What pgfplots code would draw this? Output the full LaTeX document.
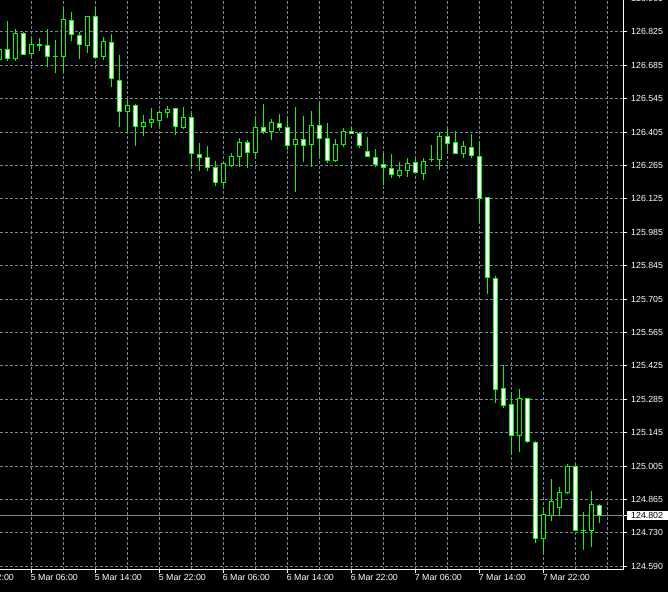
\documentclass[border=0pt]{standalone}
\usepackage{pgfplots}
\pgfplotsset{compat=1.18}
\usepackage{pgfplotstable}
\usepackage{fontspec}
\setmainfont{Liberation Sans}
\definecolor{gridc}{HTML}{778899}
\definecolor{mtgreen}{HTML}{00FF00}

% columns: i (hour index, 0 = 5 Mar 06:00), open, high, low, close
\pgfplotstableread{
i o h l c
-3 126.752 126.871 126.705 126.713
-1 126.819 126.826 126.728 126.731
2 126.769 126.837 126.680 126.723
5 126.872 126.907 126.788 126.815
6 126.811 126.826 126.713 126.773
8 126.890 126.930 126.713 126.719
10 126.782 126.816 126.596 126.631
11 126.623 126.728 126.429 126.493
13 126.518 126.522 126.349 126.430
18 126.506 126.506 126.395 126.430
20 126.468 126.485 126.261 126.317
21 126.313 126.359 126.245 126.301
22 126.301 126.348 126.242 126.259
23 126.259 126.284 126.179 126.196
27 126.363 126.373 126.257 126.320
29 126.426 126.524 126.398 126.408
31 126.443 126.482 126.412 126.424
32 126.426 126.468 126.331 126.349
34 126.373 126.473 126.282 126.349
36 126.434 126.529 126.307 126.378
37 126.380 126.445 126.278 126.289
40 126.409 126.426 126.398 126.399
41 126.402 126.408 126.341 126.349
42 126.326 126.387 126.303 126.303
43 126.301 126.335 126.261 126.270
44 126.270 126.317 126.185 126.257
45 126.255 126.314 126.213 126.228
48 126.280 126.299 126.234 126.236
52 126.389 126.418 126.328 126.359
53 126.363 126.411 126.313 126.317
55 126.342 126.398 126.296 126.309
56 126.306 126.369 126.031 126.128
57 126.133 126.133 125.730 125.799
58 125.795 125.804 125.274 125.330
59 125.335 125.431 125.253 125.263
60 125.265 125.320 125.056 125.136
62 125.293 125.293 125.107 125.111
63 125.109 125.115 124.686 124.707
68 125.008 125.013 124.738 124.739
71 124.845 124.849 124.772 124.803
}\bear

\pgfplotstableread{
i o h l c
-4 126.710 126.758 126.703 126.752
-2 126.713 126.837 126.705 126.819
0 126.734 126.801 126.721 126.773
1 126.769 126.801 126.746 126.773
3 126.723 126.791 126.654 126.723
4 126.723 126.921 126.659 126.878
7 126.769 126.890 126.738 126.890
9 126.723 126.802 126.709 126.786
12 126.493 126.543 126.408 126.518
14 126.430 126.476 126.391 126.447
15 126.447 126.508 126.422 126.460
16 126.455 126.498 126.433 126.489
17 126.489 126.515 126.466 126.501
19 126.426 126.510 126.418 126.468
24 126.195 126.281 126.178 126.273
25 126.268 126.320 126.261 126.306
26 126.306 126.380 126.261 126.363
28 126.320 126.470 126.296 126.426
30 126.408 126.461 126.373 126.447
33 126.353 126.512 126.157 126.373
35 126.353 126.494 126.261 126.434
38 126.289 126.377 126.282 126.355
39 126.353 126.424 126.342 126.409
46 126.224 126.281 126.215 126.246
47 126.245 126.299 126.220 126.276
49 126.234 126.296 126.206 126.284
50 126.291 126.353 126.282 126.291
51 126.291 126.405 126.248 126.389
54 126.316 126.370 126.296 126.347
61 125.136 125.332 125.069 125.293
64 124.707 124.837 124.651 124.808
65 124.802 124.955 124.780 124.862
66 124.837 124.923 124.802 124.900
67 124.897 125.017 124.892 125.008
69 124.739 124.816 124.658 124.739
70 124.739 124.904 124.672 124.849
}\bull

\begin{document}
\begin{tikzpicture}
\useasboundingbox (0,0) rectangle (668pt,592pt);
\clip (0,0) rectangle (668pt,592pt);
\fill[black] (0,0) rectangle (668pt,592pt);
\begin{axis}[
  at={(-40pt,22.5pt)}, anchor=south west,
  scale only axis, width=663.5pt, height=574.5pt,
  xmin=-8.9375, xmax=74.0,
  ymin=124.57662, ymax=126.97938,
  axis x line*=bottom, axis y line*=right,
  axis line style={white, line width=1pt, -},
  tick style={white, line width=1pt},
  tick align=outside,
  major tick length=3pt, minor tick length=0pt,
  xtick={-8,0,...,64},
  xticklabels={4 Mar 22:00,5 Mar 06:00,5 Mar 14:00,5 Mar 22:00,6 Mar 06:00,6 Mar 14:00,6 Mar 22:00,7 Mar 06:00,7 Mar 14:00,7 Mar 22:00},
  minor xtick={-4,4,12,20,28,36,44,52,60,68,72},
  ytick={124.5900,124.7297,124.8694,125.0091,125.1488,125.2885,125.4282,125.5679,125.7076,125.8474,125.9871,126.1268,126.2665,126.4062,126.5459,126.6856,126.8253,126.9650},
  yticklabels={124.590,124.730,124.865,125.005,125.145,125.285,125.425,125.565,125.705,125.845,125.985,126.125,126.265,126.405,126.545,126.685,126.825,126.965},
  extra y ticks={124.802},
  extra y tick labels={124.802},
  extra y tick style={major grid style={solid, gridc, line width=1pt}, yticklabel style={fill=white, text=black}},
  xmajorgrids, xminorgrids, ymajorgrids,
  major grid style={gridc, dash pattern=on 3pt off 2pt, line width=1pt},
  minor grid style={gridc, dash pattern=on 3pt off 2pt, line width=1pt},
  xticklabel style={text=white, font=\fontsize{8.8}{10}\selectfont, anchor=north west, inner sep=0pt, xshift=-0.8pt, yshift=-2pt},
  yticklabel style={text=white, font=\fontsize{8.8}{10}\selectfont, anchor=west, inner xsep=4.5pt, inner ysep=1.7pt},
]
% wicks
\addplot[draw=mtgreen, line width=1pt, line cap=butt, -, mark=none,
  quiver={u=0, v=\thisrow{h}-\thisrow{l}}]
  table[x=i, y=l] {\bear};
\addplot[draw=mtgreen, line width=1pt, line cap=butt, -, mark=none,
  quiver={u=0, v=\thisrow{h}-\thisrow{l}}]
  table[x=i, y=l] {\bull};
% body outlines
\addplot[draw=mtgreen, line width=5pt, line cap=butt, -, mark=none,
  quiver={u=0, v=\thisrow{o}-\thisrow{c}+0.004182}]
  table[x=i, y expr=\thisrow{c}-0.002091] {\bear};
\addplot[draw=mtgreen, line width=5pt, line cap=butt, -, mark=none,
  quiver={u=0, v=\thisrow{c}-\thisrow{o}+0.004182}]
  table[x=i, y expr=\thisrow{o}-0.002091] {\bull};
% body fills
\addplot[draw=white, line width=3pt, line cap=butt, -, mark=none,
  quiver={u=0, v={max(\thisrow{o}-\thisrow{c}-0.004182,0)}}]
  table[x=i, y expr=\thisrow{c}+0.002091] {\bear};
\addplot[draw=black, line width=3pt, line cap=butt, -, mark=none,
  quiver={u=0, v={max(\thisrow{c}-\thisrow{o}-0.004182,0)}}]
  table[x=i, y expr=\thisrow{o}+0.002091] {\bull};
\end{axis}
\end{tikzpicture}
\end{document}
